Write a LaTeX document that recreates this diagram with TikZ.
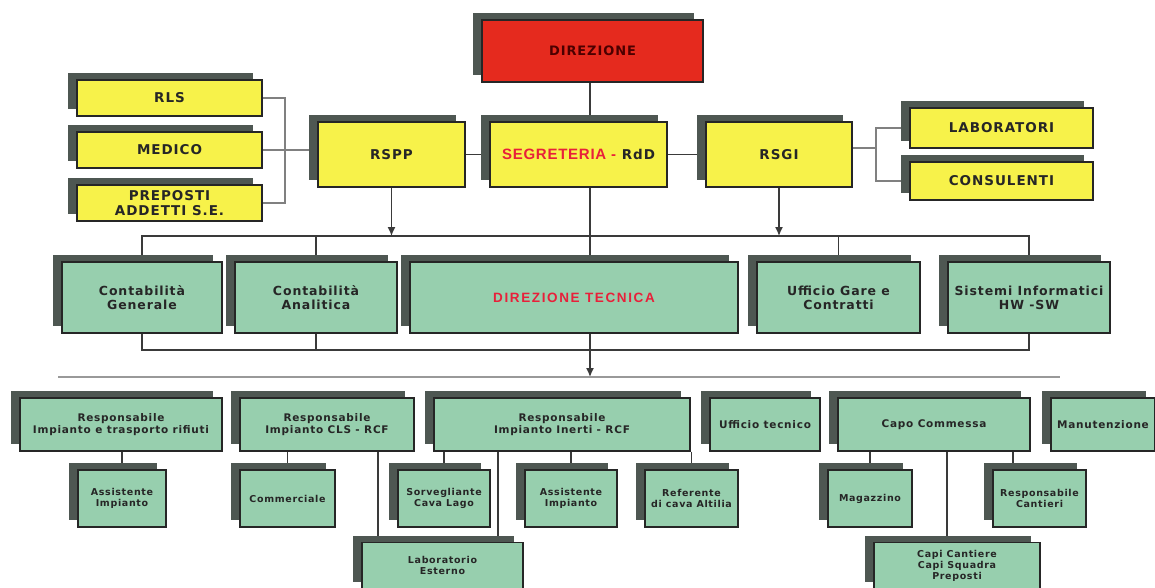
\documentclass[tikz,border=0pt]{standalone}
\usepackage{fontspec}
\setmainfont{DejaVu Sans}
\newfontfamily\bxf[LetterSpace=7]{DejaVu Sans}
\newfontfamily\arialf{Liberation Sans}
\usetikzlibrary{shadows,backgrounds,arrows.meta}
\definecolor{ybox}{HTML}{F7F24A}
\definecolor{gbox}{HTML}{97CFAE}
\definecolor{rbox}{HTML}{E52A1E}
\definecolor{shd}{HTML}{4E5752}
\definecolor{lnc}{HTML}{3A3A3A}
\definecolor{redtxt}{HTML}{E8203A}
\tikzset{
  base/.style={draw=black!85, line width=1.2pt, align=center, inner sep=1pt,
    text=black!85, font=\bxf\bfseries,
    drop shadow={shadow xshift=-9pt, shadow yshift=7pt, fill=shd, opacity=1}},
  redbox/.style={base, fill=rbox, font=\bxf\bfseries\fontsize{13}{15}\selectfont, text=black!70!red},
  ylwbox/.style={base, fill=ybox, font=\bxf\bfseries\fontsize{13.5}{14.5}\selectfont},
  grnbox/.style={base, fill=gbox, font=\bxf\bfseries\fontsize{12.5}{14}\selectfont},
  lowbox/.style={base, fill=gbox, font=\bxf\bfseries\fontsize{10.5}{12.5}\selectfont},
  subbox/.style={base, fill=gbox, font=\bxf\bfseries\fontsize{9.5}{11.5}\selectfont},
  conn/.style={draw=lnc, line width=1.1pt},
  arr/.style={conn, line width=1.4pt, -{Latex[length=9pt,width=8pt]}},
}
\begin{document}
\begin{tikzpicture}[x=1pt,y=-1pt]
\useasboundingbox (0,0) rectangle (1155,587);
% top
\node[redbox, minimum width=221, minimum height=62] (dir) at (592.5,51) {DIREZIONE};
% yellow
\node[ylwbox, minimum width=185, minimum height=36] (rls) at (169.5,98) {RLS};
\node[ylwbox, minimum width=185, minimum height=36] (med) at (169.5,150) {MEDICO};
\node[ylwbox, minimum width=185, minimum height=36] (pre) at (169.5,203) {PREPOSTI\\ADDETTI S.E.};
\node[ylwbox, minimum width=147, minimum height=65] (rspp) at (391.5,154.5) {RSPP};
\node[ylwbox, minimum width=177, minimum height=65] (seg) at (578.5,154.5) {{\arialf\bfseries\fontsize{15}{17}\selectfont\addfontfeature{LetterSpace=5}\color{redtxt}SEGRETERIA -} RdD};
\node[ylwbox, minimum width=146, minimum height=65] (rsgi) at (779,154.5) {RSGI};
\node[ylwbox, minimum width=183, minimum height=40] (lab) at (1001.5,128) {LABORATORI};
\node[ylwbox, minimum width=183, minimum height=38] (cons) at (1001.5,181) {CONSULENTI};
% green middle row
\node[grnbox, minimum width=160, minimum height=71] (cg) at (142,297.5) {Contabilità\\Generale};
\node[grnbox, minimum width=162, minimum height=71] (ca) at (316,297.5) {Contabilità\\Analitica};
\node[grnbox, minimum width=328, minimum height=71] (dt) at (574,297.5) {{\arialf\bfseries\fontsize{13.5}{15}\selectfont\addfontfeature{LetterSpace=12}\color{redtxt}DIREZIONE TECNICA}};
\node[grnbox, minimum width=163, minimum height=71] (ug) at (838.5,297.5) {Ufficio Gare e\\Contratti};
\node[grnbox, minimum width=162, minimum height=71] (si) at (1029,297.5) {Sistemi Informatici\\HW -SW};
% bottom row
\node[lowbox, minimum width=202, minimum height=53] (r1) at (121,424.5) {Responsabile\\Impianto e trasporto rifiuti};
\node[lowbox, minimum width=174, minimum height=53] (r2) at (327,424.5) {Responsabile\\Impianto CLS - RCF};
\node[lowbox, minimum width=256, minimum height=53] (r3) at (562,424.5) {Responsabile\\Impianto Inerti - RCF};
\node[lowbox, minimum width=110, minimum height=53] (ut) at (765,424.5) {Ufficio tecnico};
\node[lowbox, minimum width=192, minimum height=53] (cc) at (934,424.5) {Capo Commessa};
\node[lowbox, minimum width=104, minimum height=53] (ma) at (1103,424.5) {Manutenzione};
% sub row
\node[subbox, minimum width=88, minimum height=57] (a1) at (122,498.5) {Assistente\\Impianto};
\node[subbox, minimum width=95, minimum height=57] (co) at (287.5,498.5) {Commerciale};
\node[subbox, minimum width=92, minimum height=57] (so) at (444,498.5) {Sorvegliante\\Cava Lago};
\node[subbox, minimum width=92, minimum height=57] (a2) at (571,498.5) {Assistente\\Impianto};
\node[subbox, minimum width=93, minimum height=57] (re) at (691.5,498.5) {Referente\\di cava Altilia};
\node[subbox, minimum width=84, minimum height=57] (mg) at (870,498.5) {Magazzino};
\node[subbox, minimum width=93, minimum height=57] (rc) at (1039.5,498.5) {Responsabile\\Cantieri};
\node[subbox, minimum width=161, minimum height=46, anchor=north, text depth=0pt] (le) at (442.5,542) {Laboratorio\\Esterno};
\node[subbox, minimum width=166, minimum height=46, anchor=north, inner sep=1pt, font=\bxf\bfseries\fontsize{9.5}{11}\selectfont] (cp) at (957,542) {Capi Cantiere\\Capi Squadra\\Preposti};
% coordinates
\coordinate (bL) at (285,150);
\coordinate (bR) at (876,148);
\coordinate (busY) at (0,236);
\coordinate (busY2) at (0,350);
\coordinate (ax) at (590,0);
\coordinate (hl1) at (58,377);
\coordinate (hl2) at (1060,377);
\coordinate (x378) at (378,0);
\coordinate (x498) at (498,0);
\coordinate (x947) at (947,0);
\coordinate (x1013) at (1013,0);
\begin{pgfonlayer}{background}
\draw[conn] (dir.south -| ax) -- (seg.north -| ax);
\draw[conn] (rspp.east) -- (seg.west);
\draw[conn] (seg.east) -- (rsgi.west);
\draw[conn, draw=gray] (rls.east) -| (bL) |- (pre.east);
\draw[conn, draw=gray] (med.east) -- (med.east -| rspp.west);
\draw[conn, draw=gray] (lab.west) -| (bR) |- (cons.west);
\draw[conn, draw=gray] (bR) -- (bR -| rsgi.east);
\draw[arr] (rspp.south) -- (rspp.south |- busY);
\draw[arr] (rsgi.south) -- (rsgi.south |- busY);
\draw[conn] (cg.north) |- (si.north |- busY) -- (si.north);
\draw[conn] (ca.north |- busY) -- (ca.north);
\draw[conn] (ug.north |- busY) -- (ug.north);
\draw[conn] (seg.south -| ax) -- (dt.north -| ax);
\draw[conn] (cg.south) |- (si.south |- busY2) -- (si.south);
\draw[conn] (ca.south) -- (ca.south |- busY2);
\draw[arr] (dt.south -| ax) -- (hl1 -| ax);
\draw[draw=gray!80, line width=2.5pt] (hl1) -- (hl2);
\draw[conn] (a1.north |- r1.south) -- (a1.north);
\draw[conn] (co.north |- r2.south) -- (co.north);
\draw[conn] (x378 |- r2.south) -- (x378 |- le.north);
\draw[conn] (so.north |- r3.south) -- (so.north);
\draw[conn] (a2.north |- r3.south) -- (a2.north);
\draw[conn] (re.north |- r3.south) -- (re.north);
\draw[conn] (x498 |- r3.south) -- (x498 |- le.north);
\draw[conn] (mg.north |- cc.south) -- (mg.north);
\draw[conn] (x1013 |- cc.south) -- (x1013 |- rc.north);
\draw[conn] (x947 |- cc.south) -- (x947 |- cp.north);
\end{pgfonlayer}
\end{tikzpicture}
\end{document}
